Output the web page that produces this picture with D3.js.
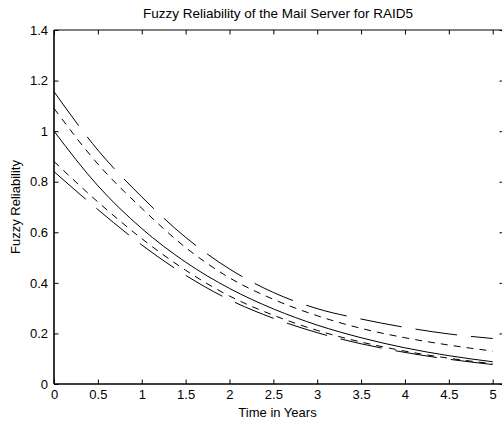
<!DOCTYPE html>
<html>
<head>
<meta charset="utf-8">
<script src="https://cdn.jsdelivr.net/npm/d3@7"></script>
<style>
  html, body { margin: 0; padding: 0; background: #fff; }
  svg { display: block; }
  text { font-family: "Liberation Sans", Arial, Helvetica, sans-serif; fill: #000; }
</style>
</head>
<body>
<svg id="chart" width="502" height="421"></svg>
<script>
// ---- data ----
const years = [0, 0.5, 1, 1.5, 2, 2.5, 3, 3.5, 4, 4.5, 5];
const upperOuter = [1.156, 0.925, 0.74, 0.58, 0.455, 0.362, 0.298, 0.257, 0.224, 0.198, 0.18];
const upperInner = [1.09, 0.87, 0.695, 0.54, 0.42, 0.335, 0.27, 0.22, 0.183, 0.154, 0.13];
const crisp      = [1.0, 0.784, 0.615, 0.482, 0.378, 0.297, 0.233, 0.183, 0.143, 0.112, 0.088];
const lowerInner = [0.88, 0.72, 0.575, 0.45, 0.348, 0.272, 0.212, 0.166, 0.13, 0.102, 0.08];
const lowerOuter = [0.84, 0.69, 0.55, 0.43, 0.333, 0.26, 0.203, 0.159, 0.125, 0.098, 0.077];
const xTicks = [0, 0.5, 1, 1.5, 2, 2.5, 3, 3.5, 4, 4.5, 5];
const yTicks = [0, 0.2, 0.4, 0.6, 0.8, 1, 1.2, 1.4];
const titleText = "Fuzzy Reliability of the Mail Server for RAID5";
const xLabel = "Time in Years";
const yLabel = "Fuzzy Reliability";

const seriesList = [
  { values: upperOuter, dash: "42,14" },
  { values: upperInner, dash: "7,6" },
  { values: crisp, dash: null },
  { values: lowerInner, dash: "7,6" },
  { values: lowerOuter, dash: "42,14" }
];

// ---- layout ----
const L = 54, R = 492.7, T = 30, B = 384, boxRight = 504;
const svg = d3.select("#chart");
const x = d3.scaleLinear().domain([0, 5]).range([L, R]);
const y = d3.scaleLinear().domain([0, 1.4]).range([B, T]);

// box
svg.append("line").attr("x1", L).attr("x2", boxRight).attr("y1", T).attr("y2", T)
  .attr("stroke", "#000").attr("stroke-width", 1);
svg.append("line").attr("x1", boxRight).attr("x2", boxRight).attr("y1", T).attr("y2", B)
  .attr("stroke", "#000").attr("stroke-width", 1);

// bottom axis (ticks inward)
const xAxisB = d3.axisBottom(x).tickValues(xTicks).tickSize(-4.5).tickPadding(6)
  .tickFormat(d => String(d));
const gxb = svg.append("g").attr("transform", `translate(0,${B})`).call(xAxisB);
gxb.select(".domain").attr("d", `M${L},0H${boxRight}`).attr("stroke-width", 1.6);
gxb.selectAll("text").attr("font-size", 13).style("font-family", "Liberation Sans, Arial, sans-serif");

// top axis ticks
const xAxisT = d3.axisTop(x).tickValues(xTicks).tickSize(-4.5).tickFormat("");
const gxt = svg.append("g").attr("transform", `translate(0,${T})`).call(xAxisT);
gxt.select(".domain").remove();

// left axis
const yAxisL = d3.axisLeft(y).tickValues(yTicks).tickSize(-4.5).tickPadding(6)
  .tickFormat(d => String(d));
const gyl = svg.append("g").attr("transform", `translate(${L},0)`).call(yAxisL);
gyl.select(".domain").attr("d", `M0,${B}V${T}`).attr("stroke-width", 1.6);
gyl.selectAll("text").attr("font-size", 13).style("font-family", "Liberation Sans, Arial, sans-serif");

// right axis ticks
const yAxisR = d3.axisRight(y).tickValues(yTicks).tickSize(-4.5).tickFormat("");
const gyr = svg.append("g").attr("transform", `translate(${boxRight},0)`).call(yAxisR);
gyr.select(".domain").remove();

// curves
const line = d3.line()
  .x((d, i) => x(years[i]))
  .y(d => y(d))
  .curve(d3.curveMonotoneX);

seriesList.forEach(s => {
  svg.append("path")
    .datum(s.values)
    .attr("d", line)
    .attr("fill", "none")
    .attr("stroke", "#000")
    .attr("stroke-width", 1)
    .attr("stroke-dasharray", s.dash);
});

// titles
svg.append("text").attr("x", 278).attr("y", 18)
  .attr("text-anchor", "middle").attr("font-size", 13.5).text(titleText);
svg.append("text").attr("x", 277.5).attr("y", 417)
  .attr("text-anchor", "middle").attr("font-size", 13).text(xLabel);
svg.append("text")
  .attr("transform", `translate(20,${(T + B) / 2}) rotate(-90)`)
  .attr("text-anchor", "middle").attr("font-size", 13).text(yLabel);
</script>
</body>
</html>
